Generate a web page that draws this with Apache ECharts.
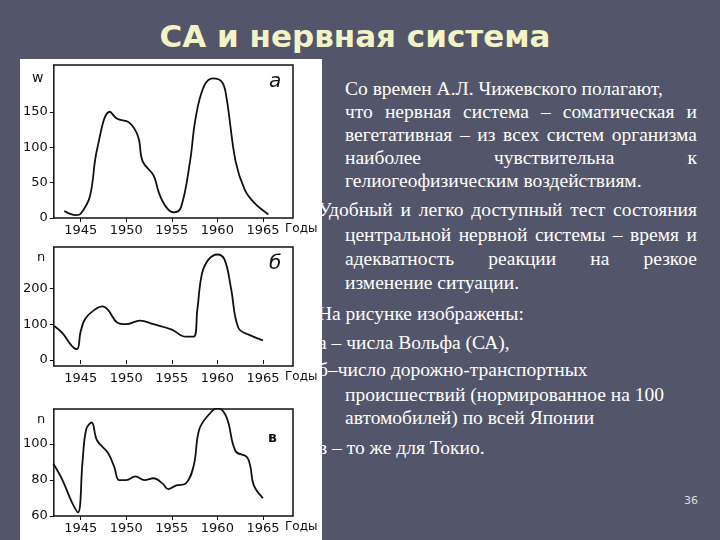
<!DOCTYPE html>
<html><head><meta charset="utf-8">
<script src="https://cdn.jsdelivr.net/npm/echarts@6/dist/echarts.min.js"></script>
<style>
body{margin:0;width:720px;height:540px;background:#53566a;position:relative;overflow:hidden;font-family:"Liberation Serif",serif}
#title{position:absolute;left:0;width:710px;top:18px;text-align:center;font:bold 31px "DejaVu Sans",sans-serif;color:#f3f3c6}
#chart{position:absolute;left:20px;top:59px;width:302px;height:481px;background:#fff}
.ln{position:absolute;color:#fff;font-size:19.5px;white-space:nowrap}
.j{text-align:justify;text-align-last:justify;white-space:normal}
#pg{position:absolute;right:22px;top:494px;color:#ddd;font:11px "DejaVu Sans",sans-serif}
</style></head><body>
<div id="title">СА и нервная система</div>
<div id="text"></div>
<div id="chart"></div>
<div id="pg">36</div>
<script>
// тексты слайда
var lines = [
  [345, 78, 'Со времен А.Л. Чижевского полагают,', 0],
  [345, 101, 'что нервная система – соматическая и', 1],
  [345, 124, 'вегетативная – из всех систем организма', 1],
  [345, 147, 'наиболее чувствительна к', 1],
  [345, 170, 'гелиогеофизическим воздействиям.', 0],
  [318, 199, 'Удобный и легко доступный тест состояния', 1],
  [345, 224, 'центральной нервной системы – время и', 1],
  [345, 248, 'адекватность реакции на резкое', 1],
  [345, 272, 'изменение ситуации.', 0],
  [318, 303, 'На рисунке изображены:', 0],
  [318, 332, 'а – числа Вольфа (СА),', 0],
  [318, 359, 'б–число дорожно-транспортных', 0],
  [345, 384, 'происшествий (нормированное на 100', 0],
  [345, 407, 'автомобилей) по всей Японии', 0],
  [318, 437, 'в – то же для Токио.', 0]
];
var html = '';
lines.forEach(function(l){
  html += '<div class="ln' + (l[3] ? ' j' : '') + '" style="left:' + l[0] + 'px;top:' + l[1] + 'px;' +
    (l[3] ? 'width:' + (697 - l[0]) + 'px' : '') + '">' + l[2] + '</div>';
});
document.getElementById('text').innerHTML = html;

// а – числа Вольфа
var yearsA = [1943.2,1944.5,1945,1946,1946.8,1948.2,1949,1950.3,1951.3,1951.8,1953,1953.6,1954.4,1955.2,1956,1957,1957.6,1958.5,1959.5,1960.5,1961,1962,1963,1964,1965.6];
var valsA  = [10,4,6,30,97,150,140,135,115,80,60,35,15,8,15,80,140,185,197,192,170,80,40,22,5];
// б – ДТП по Японии
var yearsB = [1942.1,1943,1944,1944.6,1945,1945.5,1946.5,1947.4,1948,1949,1950,1951.5,1953,1955,1956.5,1957.4,1957.8,1958.3,1959,1960,1960.8,1961.5,1962.3,1963.5,1965];
var valsB  = [95,75,40,30,80,115,140,150,140,105,100,110,100,85,65,65,140,240,280,295,280,200,90,70,55];
// в – Токио
var yearsC = [1942,1943,1944,1944.7,1945.2,1945.6,1946.2,1946.8,1948,1948.7,1949.2,1950,1951,1952,1953,1954,1954.6,1955.5,1956.5,1957.4,1958,1959,1960,1961,1962,1963.2,1963.6,1964,1965];
var valsC  = [89,80,68,62,90,108,112,102,95,87,80,80,82,80,81,78,75,77,78,88,108,116,120,115,96,93,88,77,70];
var yearTicks = [1945,1950,1955,1960,1965];
var ticksA = [0,50,100,150], ticksB = [0,100,200], ticksC = [60,80,100];

function pairs(xs, ys){ return xs.map(function(x,i){ return [x, ys[i]]; }); }

var grids = [
  {left:33, top:6, width:240, height:153},
  {left:33, top:188, width:240, height:119},
  {left:33, top:350, width:240, height:107}
];
var yr = [[0,216,ticksA],[-17,316,ticksB],[60,119.5,ticksC]];
var font = {color:'#111', fontSize:13, fontFamily:'DejaVu Sans'};

var option = {
  animation:false,
  grid: grids.map(function(g){ return Object.assign({show:true, borderColor:'#111', borderWidth:1.5}, g); }),
  xAxis: grids.map(function(g,i){ return {
    type:'value', gridIndex:i, min:1942.05, max:1968.3,
    axisLine:{show:false}, splitLine:{show:false},
    axisTick:{customValues:yearTicks, length:4, lineStyle:{color:'#111'}},
    axisLabel:Object.assign({customValues:yearTicks, margin:6, formatter:function(v){ return String(v); }}, font)
  }; }),
  yAxis: grids.map(function(g,i){ return {
    type:'value', gridIndex:i, min:yr[i][0], max:yr[i][1],
    axisLine:{show:false}, splitLine:{show:false},
    axisTick:{customValues:yr[i][2], length:4, lineStyle:{color:'#111'}},
    axisLabel:Object.assign({customValues:yr[i][2], margin:6}, font)
  }; }),
  series: [pairs(yearsA,valsA), pairs(yearsB,valsB), pairs(yearsC,valsC)].map(function(d,i){ return {
    type:'line', xAxisIndex:i, yAxisIndex:i, data:d, smooth:0.4, showSymbol:false,
    lineStyle:{color:'#111', width:1.8}
  }; }),
  graphic: [
    {type:'text', left:12, top:12, style:{text:'w', font:'14px DejaVu Sans', fill:'#111'}},
    {type:'text', left:17, top:192, style:{text:'n', font:'13px DejaVu Sans', fill:'#111'}},
    {type:'text', left:17, top:354, style:{text:'n', font:'13px DejaVu Sans', fill:'#111'}},
    {type:'text', left:249, top:13, style:{text:'a', font:'italic 20px DejaVu Sans', fill:'#111'}},
    {type:'text', left:249, top:195, style:{text:'б', font:'italic 20px DejaVu Sans', fill:'#111'}},
    {type:'text', left:248, top:372, style:{text:'в', font:'bold 14px DejaVu Sans', fill:'#111'}},
    {type:'text', left:265, top:164, style:{text:'Годы', font:'12px DejaVu Sans', fill:'#111'}},
    {type:'text', left:265, top:312, style:{text:'Годы', font:'12px DejaVu Sans', fill:'#111'}},
    {type:'text', left:265, top:462, style:{text:'Годы', font:'12px DejaVu Sans', fill:'#111'}}
  ]
};
echarts.init(document.getElementById('chart')).setOption(option);
</script>
</body></html>
